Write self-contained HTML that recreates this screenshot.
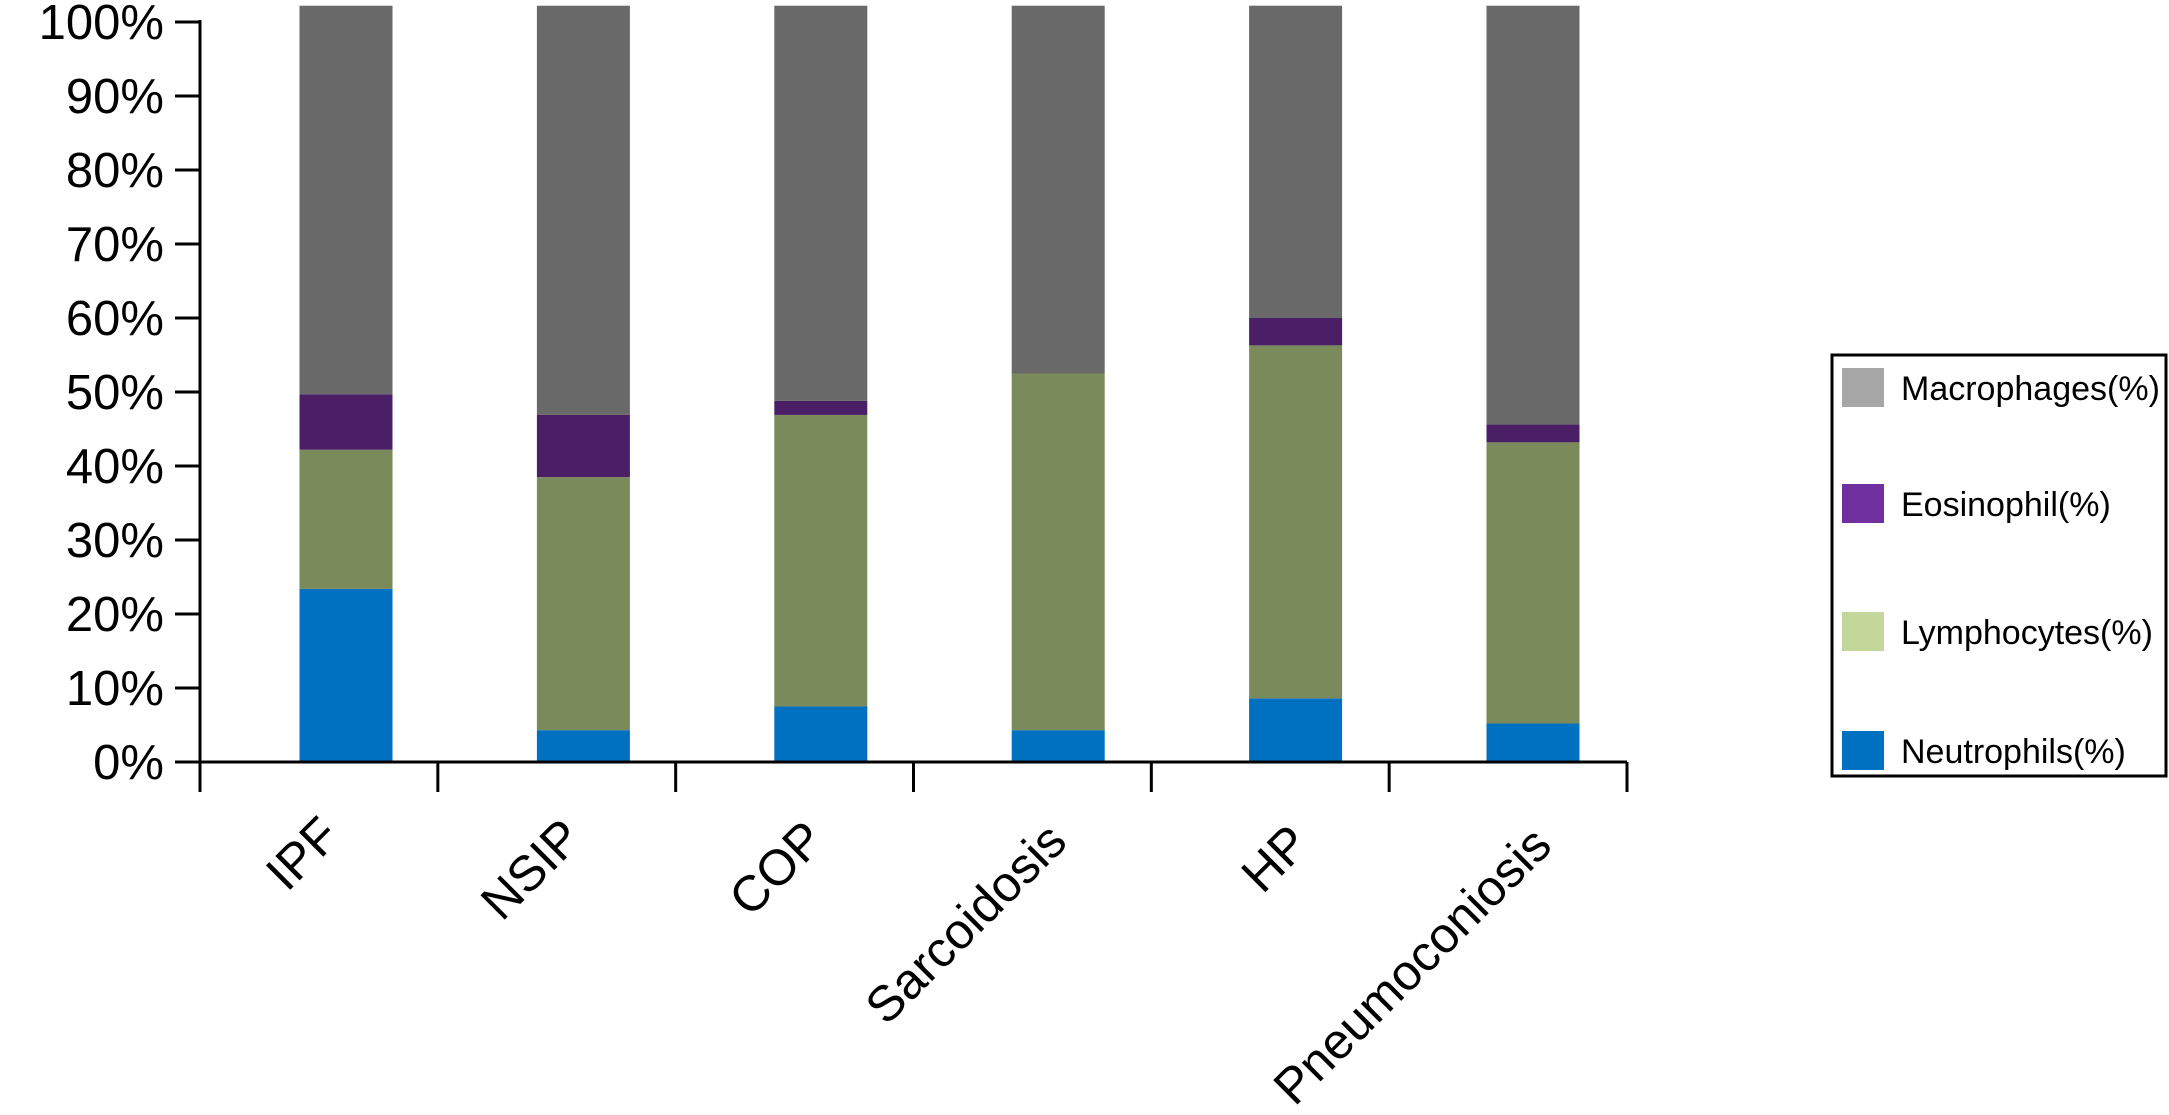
<!DOCTYPE html>
<html><head><meta charset="utf-8"><style>
html,body{margin:0;padding:0;background:#fff;}
svg{display:block;font-family:"Liberation Sans",Arial,sans-serif;}
</style></head><body>
<svg id="chart" width="2169" height="1115" viewBox="0 0 2169 1115">
<g id="bars"></g>
<g id="axes"></g>
<g id="legend">
<rect x="1832" y="355" width="334" height="421" fill="none" stroke="#000" stroke-width="3"/>
</g>
</svg>
<script>
const categories = ["IPF","NSIP","COP","Sarcoidosis","HP","Pneumoconiosis"];
const neutrophils = [23.4, 4.3, 7.5, 4.3, 8.6, 5.2];
const lymphocytes = [18.8, 34.2, 39.4, 48.2, 47.7, 38.0];
const eosinophils = [7.5, 8.4, 1.9, 0, 3.7, 2.4];
const macrophages = [52.5, 55.3, 53.4, 49.7, 42.2, 56.6];
const yTicks = [0,10,20,30,40,50,60,70,80,90,100];
const yTickLabels = ["0%","10%","20%","30%","40%","50%","60%","70%","80%","90%","100%"];
const seriesNames = ["Macrophages(%)","Eosinophil(%)","Lymphocytes(%)","Neutrophils(%)"];

const NS="http://www.w3.org/2000/svg";
const x0=200, x1=1627, y0=762, y100=22;
function yScale(v){return y0-(y0-y100)*v/100;}
function xCenter(i){return 346+237.4*i;}
const barW=93;
const barColors={n:"#0070c0",l:"#7a8a5a",e:"#4a1f66",m:"#696969"};
const legendColors=["#a6a6a6","#7030a0","#c4d79b","#0070c0"];
function mk(tag,attrs,parent){const el=document.createElementNS(NS,tag);for(const k in attrs)el.setAttribute(k,attrs[k]);parent.appendChild(el);return el;}

const bars=document.getElementById('bars');
categories.forEach((c,i)=>{
  const segs=[["n",neutrophils[i],"neutrophils"],["l",lymphocytes[i],"lymphocytes"],["e",eosinophils[i],"eosinophils"],["m",macrophages[i],"macrophages"]];
  let cum=0;
  segs.forEach(s=>{
    const top=yScale(cum+s[1]), bot=yScale(cum);
    const r=mk('rect',{x:xCenter(i)-barW/2,y:top,width:barW,height:Math.max(0,bot-top),fill:barColors[s[0]]},bars);
    
    
    cum+=s[1];
  });
});

const axes=document.getElementById('axes');
const ya=mk('line',{x1:x0,y1:y100-2,x2:x0,y2:y0+30,stroke:"#000","stroke-width":3},axes);


const xa=mk('line',{x1:x0-25,y1:y0,x2:x1,y2:y0,stroke:"#000","stroke-width":3},axes);


yTicks.forEach((t,i)=>{
  const y=yScale(t);
  const tk=mk('line',{x1:x0-25,y1:y,x2:x0,y2:y,stroke:"#000","stroke-width":3},axes);
  
  
  const tx=mk('text',{x:164,y:y+17,"text-anchor":"end","font-size":49,fill:"#000"},axes);
  tx.textContent=yTickLabels[i];
  
  
});
for(let k=0;k<=categories.length;k++){
  const x=x0+(x1-x0)*k/categories.length;
  const tk=mk('line',{x1:x,y1:y0,x2:x,y2:y0+30,stroke:"#000","stroke-width":3},axes);
  
  
}
categories.forEach((c,i)=>{
  const x=xCenter(i)-4+i*5, y=838+i*2;
  const tx=mk('text',{x:x,y:y,"text-anchor":"end","font-size":50,fill:"#000",transform:`rotate(-45 ${x} ${y})`},axes);
  tx.textContent=c;
  
  
});

const legend=document.getElementById('legend');
const ly=[368,484,612,731];
seriesNames.forEach((s,i)=>{
  const g=mk('g',{},legend);
  
  
  const r=mk('rect',{x:1842,y:ly[i],width:42,height:39,fill:legendColors[i]},g);
  
  
  const t=mk('text',{x:1901,y:ly[i]+32,"font-size":34,fill:"#000"},g);
  t.textContent=s;
  
  
});
</script>
</body></html>
